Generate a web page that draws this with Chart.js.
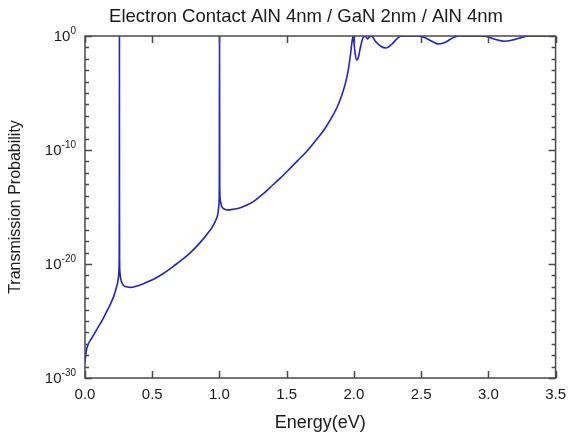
<!DOCTYPE html>
<html>
<head>
  <title>Transmission Probability</title>
  <script src="https://cdn.jsdelivr.net/npm/chart.js"></script>
  <style>
    html, body { margin: 0; padding: 0; background: #fff; }
    #wrap { width: 574px; height: 435px; }
  </style>
</head>
<body>
  <div id="wrap"><canvas id="tpChart" width="574" height="435"></canvas></div>

  <script>
    const chartTitle = 'Electron Contact AlN 4nm / GaN 2nm / AlN 4nm';
    const xTitle = 'Energy(eV)';
    const yTitle = 'Transmission Probability';

    // energy (eV)
    const energy = [
      0.000, 0.010, 0.025, 0.045, 0.070, 0.100, 0.130, 0.160, 0.190, 0.215,
      0.235, 0.245, 0.250, 0.253, 0.2545, 0.2555, 0.2560, 0.2565, 0.2575, 0.259,
      0.263, 0.270, 0.285, 0.310, 0.340, 0.380, 0.430, 0.480, 0.530, 0.580,
      0.630, 0.680, 0.730, 0.780, 0.830, 0.880, 0.920, 0.950, 0.975, 0.990,
      0.996, 0.999, 1.0005, 1.002, 1.006, 1.015, 1.030, 1.060, 1.100, 1.150,
      1.200, 1.260, 1.320, 1.380, 1.450, 1.510, 1.580, 1.650, 1.720, 1.780,
      1.830, 1.875, 1.910, 1.940, 1.960, 1.975, 1.988, 1.995, 2.000, 2.010,
      2.022, 2.035, 2.050, 2.070, 2.085, 2.100, 2.115, 2.130, 2.160, 2.200,
      2.240, 2.280, 2.320, 2.350, 2.420, 2.480, 2.530, 2.580, 2.630, 2.680,
      2.730, 2.780, 2.850, 2.950, 3.000, 3.050, 3.120, 3.190, 3.250, 3.300,
      3.400, 3.500
    ];

    // transmission probability
    const transmission = [
      2.5e-29, 2.5e-28, 1e-27, 2.5e-27, 7.9e-27, 3.2e-26, 1.26e-25, 6.3e-25, 3.2e-24, 1.6e-23,
      1e-22, 3.2e-22, 1e-21, 4e-21, 3.2e-20, 1e-15, 1, 1e-15, 1.6e-20, 2.5e-21,
      7.9e-22, 3.2e-22, 1.4e-22, 1e-22, 8.9e-23, 1.12e-22, 1.8e-22, 3.2e-22, 6.3e-22, 1.4e-21,
      3.5e-21, 1e-20, 2.8e-20, 8.9e-20, 3.5e-19, 1.6e-18, 6.3e-18, 2e-17, 7.9e-17, 3.2e-16,
      1.6e-15, 1e-13, 1, 1e-13, 4e-15, 1.26e-15, 7.1e-16, 5.6e-16, 6.3e-16, 8.3e-16,
      1.4e-15, 3.5e-15, 1.26e-14, 5.6e-14, 3.2e-13, 1.6e-12, 1.12e-11, 7.9e-11, 7.9e-10, 6.3e-9,
      5.6e-8, 5.6e-7, 6.3e-6, 1e-4, 1.4e-3, 0.025, 0.45, 1, 0.32, 0.025,
      0.008, 0.016, 0.126, 0.8, 1, 0.56, 0.8, 1, 0.35, 0.126,
      0.089, 0.18, 0.56, 1, 1, 1, 0.7, 0.35, 0.2, 0.28,
      0.63, 1, 1, 1, 0.83, 0.52, 0.35, 0.48, 0.76, 1,
      1, 1
    ];

    const xTicks = [0, 0.5, 1.0, 1.5, 2.0, 2.5, 3.0, 3.5];
    const yExponents = [0, -10, -20, -30];

    const points = energy.map((e, i) => ({ x: e, y: transmission[i] }));

    // frame, inward ticks, title and 10^n labels
    const framePlugin = {
      id: 'framePlugin',
      afterDatasetsDraw(chart) {
        const ctx = chart.ctx;
        const a = chart.chartArea;
        const xs = chart.scales.x;
        const ys = chart.scales.y;
        ctx.save();
        ctx.strokeStyle = '#4a4a4a';
        ctx.lineWidth = 1.5;
        ctx.strokeRect(a.left, a.top, a.right - a.left, a.bottom - a.top);

        ctx.beginPath();
        xTicks.forEach(v => {
          const px = Math.round(xs.getPixelForValue(v)) + 0.5;
          ctx.moveTo(px, a.top); ctx.lineTo(px, a.top + 7);
          ctx.moveTo(px, a.bottom); ctx.lineTo(px, a.bottom - 7);
        });
        for (let n = 0; n >= -30; n--) {
          const py = Math.round(ys.getPixelForValue(Math.pow(10, n))) + 0.5;
          const len = n % 10 === 0 ? 7 : 4;
          ctx.moveTo(a.left, py); ctx.lineTo(a.left + len, py);
          ctx.moveTo(a.right, py); ctx.lineTo(a.right - len, py);
        }
        ctx.stroke();

        // y labels as 10 with a raised exponent
        ctx.fillStyle = '#1a1a1a';
        yExponents.forEach(n => {
          const py = ys.getPixelForValue(Math.pow(10, n));
          const sup = n === 0 ? '0' : '-' + String(-n);
          ctx.font = '10px "Liberation Sans", Arial, sans-serif';
          const supW = ctx.measureText(sup).width;
          const right = a.left - 9;
          ctx.textAlign = 'left';
          ctx.textBaseline = 'alphabetic';
          ctx.fillText(sup, right - supW, py - 2);
          ctx.font = '15px "Liberation Sans", Arial, sans-serif';
          ctx.textAlign = 'right';
          ctx.fillText('10', right - supW, py + 5);
        });

        ctx.font = '18.5px "Liberation Sans", Arial, sans-serif';
        ctx.textAlign = 'center';
        ctx.textBaseline = 'alphabetic';
        ctx.fillText(chartTitle, 306, 22);
        ctx.restore();
      }
    };

    const ctx = document.getElementById('tpChart').getContext('2d');
    new Chart(ctx, {
      type: 'line',
      data: {
        datasets: [{
          data: points,
          borderColor: '#2222cc',
          borderWidth: 1.6,
          pointRadius: 0,
          fill: false,
          cubicInterpolationMode: 'monotone'
        }]
      },
      options: {
        responsive: false,
        animation: false,
        layout: { padding: { top: 36, right: 13, left: 0, bottom: 0 } },
        plugins: {
          legend: { display: false },
          title: { display: false },
          tooltip: { enabled: false }
        },
        scales: {
          x: {
            type: 'linear',
            min: 0,
            max: 3.5,
            grid: { display: false, drawTicks: false },
            border: { display: false },
            afterBuildTicks: scale => { scale.ticks = xTicks.map(v => ({ value: v })); },
            afterFit: scale => { scale.height = 57; },
            ticks: {
              padding: 8,
              color: '#1a1a1a',
              maxRotation: 0,
              font: { family: '"Liberation Sans", Arial, sans-serif', size: 15 },
              callback: v => Number(v).toFixed(1)
            },
            title: {
              display: true,
              text: xTitle,
              color: '#1a1a1a',
              padding: { top: 0, bottom: 1 },
              font: { family: '"Liberation Sans", Arial, sans-serif', size: 18 }
            }
          },
          y: {
            type: 'logarithmic',
            min: 1e-30,
            max: 1,
            grid: { display: false, drawTicks: false },
            border: { display: false },
            afterFit: scale => { scale.width = 85; },
            ticks: { display: false },
            title: {
              display: true,
              text: yTitle,
              color: '#1a1a1a',
              padding: { top: 6, bottom: 0 },
              font: { family: '"Liberation Sans", Arial, sans-serif', size: 16 }
            }
          }
        }
      },
      plugins: [framePlugin]
    });
  </script>
</body>
</html>
